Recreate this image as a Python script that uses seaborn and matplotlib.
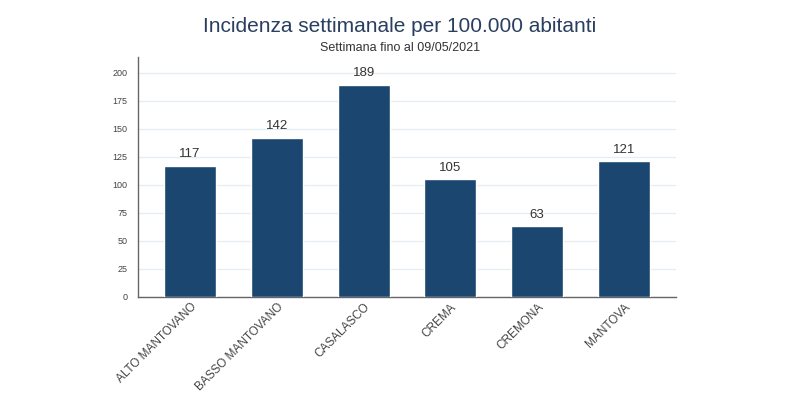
import matplotlib
matplotlib.use("Agg")
import matplotlib.pyplot as plt
import seaborn as sns
import pandas as pd

distretti = ["ALTO MANTOVANO", "BASSO MANTOVANO", "CASALASCO", "CREMA", "CREMONA", "MANTOVA"]
incidenza = [117, 142, 189, 105, 63, 121]

df = pd.DataFrame({"distretto": distretti, "incidenza": incidenza})

sns.set_style("white")
plt.rcParams["font.family"] = ["Liberation Sans", "DejaVu Sans"]

fig = plt.figure(figsize=(8, 4), dpi=100)
ax = fig.add_axes([0.1725, 0.2575, 0.6725, 0.6])

sns.barplot(data=df, x="distretto", y="incidenza", color="#1b4670",
            width=0.6, saturation=1, ax=ax, zorder=3)

# etichette sopra le barre
for p, v in zip(ax.patches, incidenza):
    ax.text(p.get_x() + p.get_width() / 2, v + 5, str(v), ha="center", va="bottom",
            fontsize=9.5, color="#333333")

ax.set_xlim(-0.6, 5.6)
ax.set_ylim(0, 214)
ax.set_yticks(range(0, 201, 25))
ax.yaxis.grid(True, color="#e6edf1", linewidth=0.9, zorder=0)
ax.set_axisbelow(True)
ax.set_xlabel("")
ax.set_ylabel("")

ax.tick_params(axis="y", labelsize=6.5, labelcolor="#444444", length=4, width=0.8, color="#666666")
ax.tick_params(axis="x", labelsize=8.5, labelcolor="#444444", length=0, pad=3)
plt.setp(ax.get_xticklabels(), rotation=45, ha="right", rotation_mode="anchor")

for s in ["top", "right"]:
    ax.spines[s].set_visible(False)
for s in ["left", "bottom"]:
    ax.spines[s].set_color("#666666")
    ax.spines[s].set_linewidth(1)

fig.text(0.5, 0.935, "Incidenza settimanale per 100.000 abitanti", ha="center", va="center",
         fontsize=15, color="#2a3f5f")
fig.text(0.5, 0.88, "Settimana fino al 09/05/2021", ha="center", va="center",
         fontsize=9, color="#333333")

fig.savefig("out.png", dpi=100)
